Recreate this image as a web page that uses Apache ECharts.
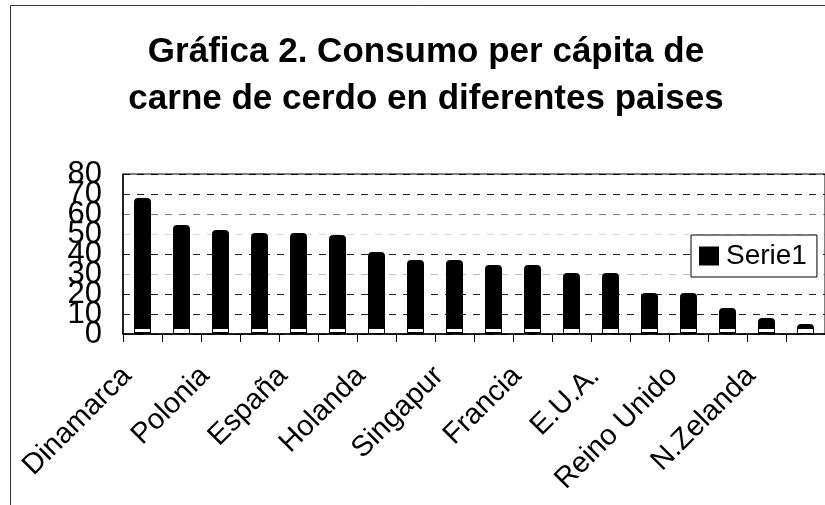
<!DOCTYPE html>
<html>
<head>
<meta charset="utf-8">
<script src="https://cdn.jsdelivr.net/npm/echarts@6/dist/echarts.min.js"></script>
<style>
html,body{margin:0;padding:0;background:#fff;}
#chart{width:825px;height:505px;}
</style>
</head>
<body>
<div id="chart"></div>
<script>
// Categories (only every other label is visible in the source; hidden ones are guesses)
const categories = ['Dinamarca','Austria','Polonia','Alemania','España','Hungría','Holanda','Bélgica','Singapur','Suiza','Francia','Italia','E.U.A.','Canadá','Reino Unido','Japón','N.Zelanda','Australia'];
// Serie1 values (kg per capita)
const serie1 = [68, 54.5, 52, 50.5, 50.5, 49.5, 41, 37, 37, 34.5, 34.5, 30.5, 30.5, 20.5, 20.5, 13, 8, 5];
const seriesName = 'Serie1';
const titleText = 'Gráfica 2. Consumo per cápita de\ncarne de cerdo en diferentes paises';
// Y tick labels (0..80 by 10); drawn on a label-only axis so none are dropped for overlapping
const yTickLabels = ['0','10','20','30','40','50','60','70','80'];
const yMin = 0, yMax = 80, yStep = 10;

const gridHeight = 160;
const font = 'Liberation Sans, Arial, sans-serif';

// Bar style: black body with a thin white strip at the base (as in the scanned Excel chart)
function barStyle(v) {
  const h = v * gridHeight / (yMax - yMin);
  const a = Math.max(0, 1 - 5 / h), b = Math.max(0, 1 - 1.5 / h);
  return {
    color: {type: 'linear', x: 0, y: 0, x2: 0, y2: 1, colorStops: [
      {offset: 0, color: '#000'}, {offset: a, color: '#000'},
      {offset: a, color: '#fff'}, {offset: b, color: '#fff'},
      {offset: b, color: '#000'}, {offset: 1, color: '#000'}
    ]}
  };
}

const chart = echarts.init(document.getElementById('chart'), null, {renderer: 'canvas'});
chart.setOption({
  animation: false,
  backgroundColor: '#fff',
  graphic: [{
    type: 'rect', left: 8, top: 3, silent: true, z: -10,
    shape: {width: 900, height: 600},
    style: {fill: 'none', stroke: '#333', lineWidth: 1}
  }],
  title: {
    text: titleText,
    left: 421, top: 24,
    textAlign: 'center',
    textStyle: {fontFamily: font, fontSize: 35, fontWeight: 'bold', color: '#000', lineHeight: 47}
  },
  legend: {
    left: 691, top: 235,
    orient: 'vertical',
    backgroundColor: '#fff',
    borderColor: '#000', borderWidth: 1,
    padding: [7, 10, 7, 8],
    itemWidth: 18, itemHeight: 17,
    itemGap: 0,
    icon: 'rect',
    itemStyle: {color: '#000'},
    textStyle: {fontFamily: font, fontSize: 28, color: '#000', padding: [0, 0, 0, 3]},
    data: [seriesName]
  },
  grid: {
    left: 123, top: 174, width: 708, height: gridHeight,
    show: true, borderColor: '#000', borderWidth: 1, backgroundColor: 'transparent'
  },
  xAxis: {
    type: 'category',
    data: categories,
    axisLine: {lineStyle: {color: '#000', width: 1.5}},
    axisTick: {show: true, interval: 0, length: 8, lineStyle: {color: '#000'}},
    axisLabel: {interval: 1, rotate: 45, margin: 22, padding: [0, 22, 0, 0], fontFamily: font, fontSize: 29, color: '#000'},
    splitLine: {show: false}
  },
  yAxis: [{
    type: 'value',
    min: yMin, max: yMax, interval: yStep,
    axisLine: {show: true, lineStyle: {color: '#000', width: 1.5}},
    axisTick: {show: false},
    axisLabel: {show: false},
    splitLine: {show: true, lineStyle: {type: [7, 7], width: 1,
      color: ['#000', '#222', '#222', 'rgba(0,0,0,0.25)', '#222', 'rgba(0,0,0,0.15)', 'rgba(0,0,0,0.5)', '#222', '#000']}}
  }, {
    type: 'category',
    data: yTickLabels,
    boundaryGap: false,
    position: 'left',
    axisLine: {show: false},
    axisTick: {show: false},
    splitLine: {show: false},
    axisLabel: {interval: 0, margin: 21, fontFamily: font, fontSize: 31, color: '#000', hideOverlap: false}
  }],
  series: [{
    name: seriesName,
    type: 'bar',
    xAxisIndex: 0,
    yAxisIndex: 0,
    data: serie1.map(v => ({value: v, itemStyle: barStyle(v)})),
    barWidth: 17,
    itemStyle: {color: '#000', borderColor: '#000', borderWidth: 1, borderRadius: [3, 3, 0, 0]}
  }]
});
</script>
</body>
</html>
